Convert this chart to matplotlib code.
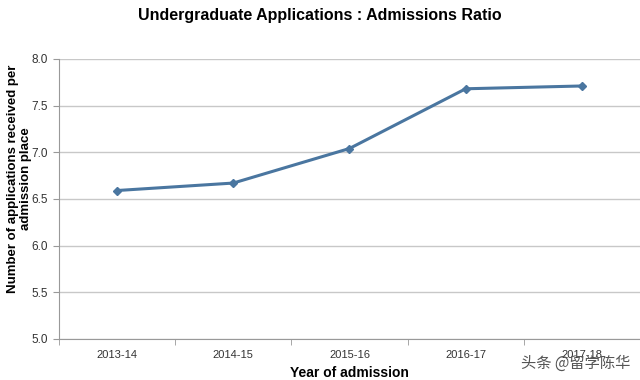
import matplotlib
matplotlib.use("Agg")
import matplotlib.pyplot as plt

years = ["2013-14", "2014-15", "2015-16", "2016-17", "2017-18"]
ratios = [6.59, 6.67, 7.04, 7.68, 7.71]
yticks = [5.0, 5.5, 6.0, 6.5, 7.0, 7.5, 8.0]

plt.rcParams['font.family'] = ['Liberation Sans', 'DejaVu Sans']

fig = plt.figure(figsize=(6.4, 3.8), dpi=100)
ax = fig.add_axes([0.092, 0.108, 0.908, 0.737])

x = list(range(len(years)))
ax.plot(x, ratios, color="#4a76a0", lw=2.2, marker="D", ms=4.5, zorder=3)

ax.set_xlim(-0.5, len(years) - 0.5)
ax.set_ylim(5.0, 8.0)
ax.set_yticks(yticks)
ax.set_yticklabels([f"{v:.1f}" for v in yticks], fontsize=8.5, color="#333333")
ax.yaxis.grid(True, color="#c8c8c8", lw=1.0)
ax.set_axisbelow(True)

ax.set_xticks(x)
ax.set_xticklabels(years, fontsize=8, color="#333333")
ax.set_xticks([i - 0.5 for i in range(len(years) + 1)], minor=True)
ax.tick_params(axis="x", which="major", length=0, pad=8)
ax.tick_params(axis="x", which="minor", length=4, color="#999999")
ax.tick_params(axis="y", length=4, color="#999999", pad=4)

for s in ["top", "right"]:
    ax.spines[s].set_visible(False)
for s in ["left", "bottom"]:
    ax.spines[s].set_color("#999999")

ax.set_xlabel("Year of admission", fontsize=10, fontweight="bold", labelpad=4)
ax.set_ylabel("Number of applications received per\nadmission place", fontsize=9.5,
              fontweight="bold", linespacing=1.1)
ax.yaxis.set_label_coords(-0.046, 0.571)
fig.text(0.5, 0.96, "Undergraduate Applications : Admissions Ratio", ha="center",
         va="center", fontsize=11.5, fontweight="bold")
fig.text(0.985, 0.045, "头条 @留学陈华", ha="right", va="center", fontsize=11,
         color="#555555", family=["Noto Sans CJK SC", "DejaVu Sans"])

fig.savefig("out.png", dpi=100)
